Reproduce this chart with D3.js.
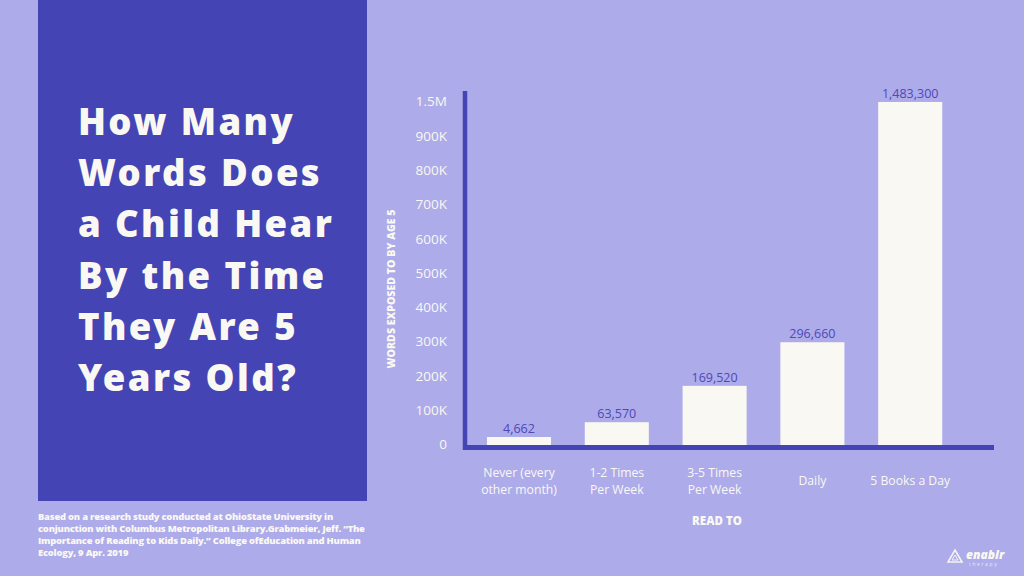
<!DOCTYPE html>
<html><head><meta charset="utf-8">
<script src="https://cdn.jsdelivr.net/npm/d3@7"></script>
<style>
html,body{margin:0;padding:0;background:#adabe9;}
svg{display:block;}
</style></head>
<body>
<svg id="c" width="1024" height="576"></svg>
<script>
const categories = ["Never (every|other month)", "1-2 Times|Per Week", "3-5 Times|Per Week", "Daily", "5 Books a Day"];
const values = [4662, 63570, 169520, 296660, 1483300];
const tickValues = [0, 100000, 200000, 300000, 400000, 500000, 600000, 700000, 800000, 900000, 1500000];
const titleLines = ["How Many", "Words Does", "a Child Hear", "By the Time", "They Are 5", "Years Old?"];
const footnoteLines = [
  "Based on a research study conducted at OhioState University in",
  "conjunction with Columbus Metropolitan Library.Grabmeier, Jeff. \u201CThe",
  "Importance of Reading to Kids Daily.\u201D College ofEducation and Human",
  "Ecology, 9 Apr. 2019"
];
const yAxisTitle = "WORDS EXPOSED TO BY AGE 5";
const xAxisTitle = "READ TO";

const BG = "#adabe9", DARK = "#4444b4", CREAM = "#faf8f2", LABEL = "#4d49b8";
const svg = d3.select("#c");
svg.append("rect").attr("width",1024).attr("height",576).attr("fill",BG);

// Left panel
svg.append("rect").attr("x",38).attr("y",0).attr("width",329).attr("height",501).attr("fill",DARK);
const tt = svg.append("text").attr("fill",CREAM)
  .style("font-family","'Noto Sans', 'Open Sans', sans-serif").style("font-weight",900)
  .style("font-size","36.5px").style("letter-spacing","2.4px");
titleLines.forEach((l,i)=>{
  tt.append("tspan").attr("x",78).attr("y",135 + i*51.2).text(l);
});

// Footnote
const fn = svg.append("text").attr("fill",CREAM)
  .style("font-family","'Open Sans', sans-serif").style("font-weight",800)
  .style("font-size","9.4px").style("letter-spacing","-0.2px");
footnoteLines.forEach((l,i)=>{
  fn.append("tspan").attr("x",38).attr("y",520 + i*12).text(l);
});

// Scales
const y = d3.scaleLinear().domain([0, 900000, 1500000]).range([444, 135.3, 101]);
const x = d3.scaleBand().domain(categories).range([470.1, 959.1]).paddingInner(0.345).paddingOuter(0.1725);

const fmt = d => d === 0 ? "0" : (d >= 1e6 ? (d/1e6) + "M" : (d/1e3) + "K");

// Y axis ticks
const yAxis = d3.axisLeft(y).tickValues(tickValues).tickFormat(fmt).tickSize(0).tickPadding(0);
const ya = svg.append("g").attr("transform","translate(447,0)").call(yAxis);
ya.select(".domain").remove();
ya.selectAll("text").attr("fill",CREAM)
  .style("font-family","'Open Sans', sans-serif").style("font-size","13.5px")
  .attr("dy","0.36em");

// Bars
const barBottom = 446;
svg.append("g").selectAll("rect").data(values).join("rect")
  .attr("x",(d,i)=>x(categories[i]))
  .attr("width",x.bandwidth())
  .attr("y",d=>Math.min(y(d), barBottom-9))
  .attr("height",d=>barBottom - Math.min(y(d), barBottom-9))
  .attr("fill",CREAM);

// Value labels
svg.append("g").selectAll("text").data(values).join("text")
  .attr("x",(d,i)=>x(categories[i]) + x.bandwidth()/2)
  .attr("y",d=>Math.min(y(d), barBottom-9) - 4)
  .attr("text-anchor","middle").attr("fill",LABEL)
  .style("font-family","'Open Sans', sans-serif").style("font-size","12.5px")
  .text(d=>d3.format(",")(d));

// Axis lines
svg.append("line").attr("x1",465).attr("x2",465).attr("y1",91).attr("y2",450)
  .attr("stroke",DARK).attr("stroke-width",4.5);
svg.append("line").attr("x1",463).attr("x2",994).attr("y1",447.5).attr("y2",447.5)
  .attr("stroke",DARK).attr("stroke-width",5);

// X axis labels
const xa = svg.append("g").selectAll("text").data(categories).join("text")
  .attr("text-anchor","middle").attr("fill",CREAM)
  .style("font-family","'Open Sans', sans-serif").style("font-size","12.2px");
xa.each(function(c){
  const parts = c.split("|");
  const cx = x(c) + x.bandwidth()/2;
  const t = d3.select(this);
  const startY = parts.length === 1 ? 485 : 477;
  parts.forEach((p,i)=>t.append("tspan").attr("x",cx).attr("y",startY + i*16.5).text(p));
});

// Axis titles
svg.append("text").attr("x",717).attr("y",525).attr("text-anchor","middle").attr("fill",CREAM)
  .style("font-family","'Open Sans', sans-serif").style("font-weight",800).style("font-size","11.5px")
  .text(xAxisTitle);
svg.append("text").attr("transform","translate(395,289) rotate(-90)").attr("text-anchor","middle").attr("fill",CREAM)
  .style("font-family","'Open Sans', sans-serif").style("font-weight",800).style("font-size","10.6px")
  .text(yAxisTitle);

// Logo
const lg = svg.append("g").attr("fill","none").attr("stroke",CREAM).attr("stroke-width",1.6).attr("opacity",0.95);
lg.append("path").attr("d","M955,550 L962,562 L948,562 Z");
lg.append("path").attr("d","M955,555 L958,560 L952,560 Z").attr("stroke-width",1);
svg.append("text").attr("x",966).attr("y",559).attr("fill",CREAM)
  .style("font-family","'Open Sans', sans-serif").style("font-weight",800).style("font-style","italic").style("font-size","12px")
  .text("enablr");
svg.append("text").attr("x",969).attr("y",566).attr("fill",CREAM).attr("opacity",0.8)
  .style("font-family","'Open Sans', sans-serif").style("font-size","5px").style("letter-spacing","1.6px")
  .text("therapy");
</script>
</body></html>
